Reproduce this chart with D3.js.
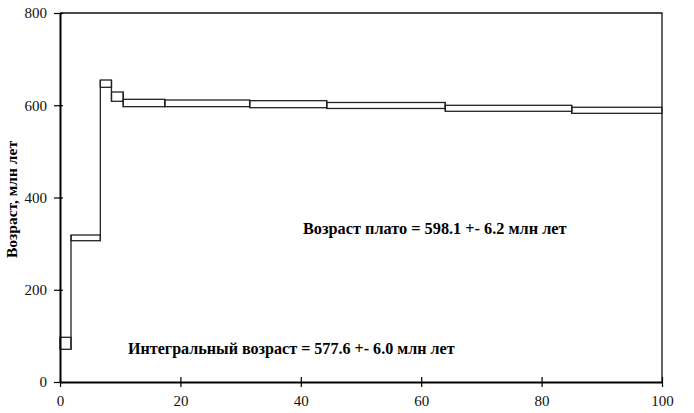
<!DOCTYPE html>
<meta charset="utf-8">
<script src="https://d3js.org/d3.v7.min.js"></script>
<style>
  body { margin: 0; background: #fff; }
  text { font-family: "Liberation Serif", "Times New Roman", serif; }
</style>
<div id="chart"></div>
<script>
  // cumulative 39Ar release, % (step boundaries)
  var stepEdges = [0, 1.83, 6.7, 8.55, 10.5, 17.4, 31.5, 44.3, 64.0, 85.0, 100];
  // age limits of each step, Ma
  var ageHigh = [96.9, 318.7, 654.7, 628.7, 612.9, 611.4, 609.9, 606.0, 599.9, 595.6];
  var ageLow = [70.9, 306.3, 638.9, 608.6, 596.9, 596.9, 594.7, 593.0, 586.9, 582.5];
  var xTicks = [0, 20, 40, 60, 80, 100];
  var yTicks = [0, 200, 400, 600, 800];
  var plateauText = "Возраст плато = 598.1 +- 6.2 млн лет";
  var integralText = "Интегральный возраст = 577.6 +- 6.0 млн лет";
  var yTitle = "Возраст, млн лет";

  var W = 694, H = 413;
  var margin = {top: 13, right: 32, bottom: 31, left: 60};

  var svg = d3.select("#chart").append("svg")
    .attr("width", W).attr("height", H);

  var x = d3.scaleLinear().domain([0, 100]).range([margin.left, W - margin.right]);
  var y = d3.scaleLinear().domain([0, 800]).range([H - margin.bottom, margin.top]);

  // frame top and right
  svg.append("path")
    .attr("d", "M" + x(0) + "," + y(800) + "H" + x(100) + "V" + y(0))
    .attr("fill", "none").attr("stroke", "#111").attr("stroke-width", 1.3);

  // steps
  var steps = ageHigh.map(function (d, i) {
    return {x0: stepEdges[i], x1: stepEdges[i + 1], hi: d, lo: ageLow[i]};
  });
  svg.selectAll("rect.step")
    .data(steps)
    .enter()
    .append("rect")
    .attr("class", "step")
    .attr("x", function (d) { return x(d.x0); })
    .attr("width", function (d) { return x(d.x1) - x(d.x0); })
    .attr("y", function (d) { return y(d.hi); })
    .attr("height", function (d) { return y(d.lo) - y(d.hi); })
    .attr("fill", "none")
    .attr("stroke", "#222")
    .attr("stroke-width", 1.3);

  // vertical risers joining neighbouring steps
  var risers = steps.slice(1).map(function (d, i) {
    var p = steps[i];
    return {xv: d.x0, top: Math.max(p.hi, d.hi), bot: Math.min(p.lo, d.lo)};
  });
  svg.selectAll("line.riser")
    .data(risers)
    .enter()
    .append("line")
    .attr("class", "riser")
    .attr("x1", function (d) { return x(d.xv); })
    .attr("x2", function (d) { return x(d.xv); })
    .attr("y1", function (d) { return y(d.top); })
    .attr("y2", function (d) { return y(d.bot); })
    .attr("stroke", "#222")
    .attr("stroke-width", 1.3);

  // axes
  var xAxis = svg.append("g")
    .attr("transform", "translate(0," + y(0) + ")")
    .call(d3.axisBottom(x).tickValues(xTicks).tickSizeInner(5).tickSizeOuter(0).tickPadding(8));
  xAxis.selectAll(".tick line").attr("y1", -5).attr("stroke-width", 1.2);
  xAxis.select(".domain").attr("stroke-width", 2);

  var yAxis = svg.append("g")
    .attr("transform", "translate(" + x(0) + ",0)")
    .call(d3.axisLeft(y).tickValues(yTicks).tickSizeInner(6).tickSizeOuter(0).tickPadding(7));
  yAxis.selectAll(".tick line").attr("x1", 3).attr("stroke-width", 1.2);
  yAxis.select(".domain").attr("stroke-width", 2);

  svg.selectAll(".tick text")
    .style("font-family", "'Liberation Serif', serif")
    .style("font-size", "15px")
    .attr("fill", "#111");

  svg.append("text")
    .attr("transform", "translate(17," + (y(400) + 2) + ") rotate(-90)")
    .attr("text-anchor", "middle")
    .style("font-size", "15.5px")
    .style("font-weight", "bold")
    .text(yTitle);

  svg.append("text")
    .attr("x", 303).attr("y", 234)
    .style("font-size", "16.3px")
    .style("font-weight", "bold")
    .text(plateauText);

  svg.append("text")
    .attr("x", 128).attr("y", 354)
    .style("font-size", "16.1px")
    .style("font-weight", "bold")
    .text(integralText);
</script>
